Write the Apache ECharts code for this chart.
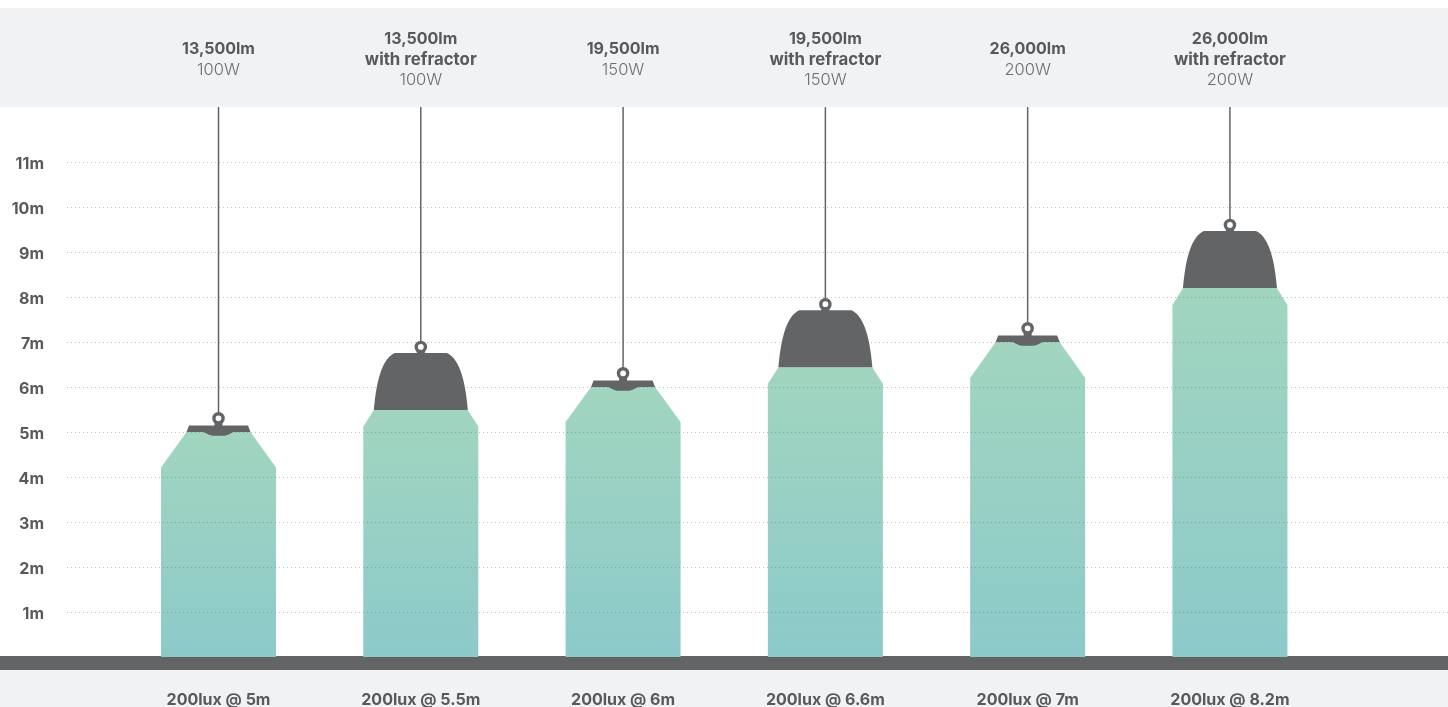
<!DOCTYPE html>
<html><head><meta charset="utf-8">
<style>html,body{margin:0;padding:0;background:#fff}#c{width:1448px;height:707px}</style>
<script src="https://cdn.jsdelivr.net/npm/echarts@6/dist/echarts.min.js"></script></head>
<body><div id="c"></div>
<script>
// Data
const lumens = ['13,500lm','13,500lm','19,500lm','19,500lm','26,000lm','26,000lm'];
const refractor = [false,true,false,true,false,true];
const watts = ['100W','100W','150W','150W','200W','200W'];
const footLabels = ['200lux @ 5m','200lux @ 5.5m','200lux @ 6m','200lux @ 6.6m','200lux @ 7m','200lux @ 8.2m'];
const mountHeights = [5,5.49,6,6.44,7,8.2];
const shoulderHeights = [4.21,5.12,5.22,6.07,6.2,7.82];
const cordTop = 12.22;

const FONT = 'Inter, "Noto Sans", sans-serif';
const BOLD = '700 16px ' + FONT, BOLD2 = '700 16.8px ' + FONT, LIGHT = '300 16.5px ' + FONT;
const TXT = '#58595b', TXT2 = '#6d6e71', DARK = '#636466';
const chart = echarts.init(document.getElementById('c'), null, {renderer:'canvas'});

const barHalf = 0.2843, topHalfFlat = 0.158, topHalfDome = 0.232;

function renderBar(params, api){
  const i = api.value(0), top = api.value(1), sh = api.value(2);
  const th = refractor[i] ? topHalfDome : topHalfFlat;
  const pts = [[i-th,top],[i+th,top],[i+barHalf,sh],[i+barHalf,0],[i-barHalf,0],[i-barHalf,sh]].map(p=>api.coord(p));
  return {type:'polygon', shape:{points:pts}, style:{
    fill:new echarts.graphic.LinearGradient(0,0,0,1,[{offset:0,color:'#a1d5bf'},{offset:1,color:'#8ccaca'}])}};
}
function ring(cx,cy){
  return {type:'circle', shape:{cx,cy,r:4.6}, style:{fill:'#fff',stroke:DARK,lineWidth:3.4}};
}
function renderLamp(params, api){
  const i = api.value(0), top = api.value(1);
  const [cx,cy] = api.coord([i,top]);
  const [,ct] = api.coord([i,cordTop]);
  const kids = [];
  if (refractor[i]) {
    kids.push({type:'line', shape:{x1:cx,y1:ct,x2:cx,y2:cy-68}, style:{stroke:DARK,lineWidth:1.5}});
    kids.push({type:'rect', shape:{x:cx-4,y:cy-62,width:8,height:6}, style:{fill:DARK}});
    kids.push({type:'path', shape:{
      pathData:'M-26,-57 L26,-57 C37,-52 44,-35 47,0 L-47,0 C-44,-35 -37,-52 -26,-57 Z',
      layout:'cover', x:cx-47, y:cy-57, width:94, height:57}, style:{fill:DARK}});
    kids.push(ring(cx,cy-63));
  } else {
    kids.push({type:'line', shape:{x1:cx,y1:ct,x2:cx,y2:cy-18.5}, style:{stroke:DARK,lineWidth:1.5}});
    kids.push({type:'rect', shape:{x:cx-4,y:cy-12,width:8,height:7}, style:{fill:DARK}});
    kids.push({type:'polygon', shape:{points:[
      [cx-29.5,cy-6.4],[cx+29.5,cy-6.4],[cx+32,cy],[cx+15,cy],[cx+9,cy+3],[cx+6,cy+3.8],[cx-6,cy+3.8],[cx-9,cy+3],[cx-15,cy],[cx-32,cy]
    ]}, style:{fill:DARK}});
    kids.push(ring(cx,cy-13.7));
  }
  return {type:'group', children:kids};
}
function txt(x,y,text,font,fill){
  return {type:'text', style:{x,y,text,font,fill,align:'center',verticalAlign:'middle'}};
}
function renderText(params, api){
  const i = api.value(0), x = api.coord([i,0])[0];
  const k = [];
  if (refractor[i]) {
    k.push(txt(x,39.5,lumens[i],BOLD,TXT), txt(x,59.5,'with refractor',BOLD2,TXT), txt(x,80,watts[i],LIGHT,TXT2));
  } else {
    k.push(txt(x,49.5,lumens[i],BOLD,TXT), txt(x,70,watts[i],LIGHT,TXT2));
  }
  k.push(txt(x,700.5,footLabels[i],BOLD,TXT));
  return {type:'group', children:k};
}
const seriesData = mountHeights.map((h,i)=>[i,h,shoulderHeights[i]]);
chart.setOption({
  animation:false,
  backgroundColor:'#fff',
  graphic:[
    {type:'rect', z:-1, silent:true, shape:{x:0,y:8,width:1448,height:99}, style:{fill:'#f1f2f4'}},
    {type:'rect', z:-1, silent:true, shape:{x:0,y:670,width:1448,height:37}, style:{fill:'#f1f2f4'}},
    {type:'rect', z:-1, silent:true, shape:{x:0,y:656,width:1448,height:14}, style:{fill:DARK}}
  ],
  grid:{left:67,right:0,top:139.5,bottom:50,containLabel:false},
  xAxis:{type:'value',min:-0.749,max:6.078,show:false,splitLine:{show:false}},
  yAxis:{type:'value',min:0,max:11.5,interval:1,z:3,
    axisLine:{show:false},axisTick:{show:false},
    axisLabel:{margin:23,align:'right',color:TXT,
      rich:{a:{fontFamily:'Inter',fontWeight:700,fontSize:16,color:TXT,padding:[4,0,0,0]}},
      formatter:v=>(v>0&&Number.isInteger(v))?'{a|'+v+'m}':''},
    splitLine:{show:true,showMinLine:false,showMaxLine:false,lineStyle:{type:[1,3],width:1,color:'rgba(90,90,90,0.38)'}}},
  series:[
    {type:'custom',z:2,silent:true,renderItem:renderBar,data:seriesData,clip:false},
    {type:'custom',z:5,silent:true,renderItem:renderLamp,data:seriesData,clip:false},
    {type:'custom',z:6,silent:true,renderItem:renderText,data:seriesData,clip:false}
  ]
});
</script></body></html>
